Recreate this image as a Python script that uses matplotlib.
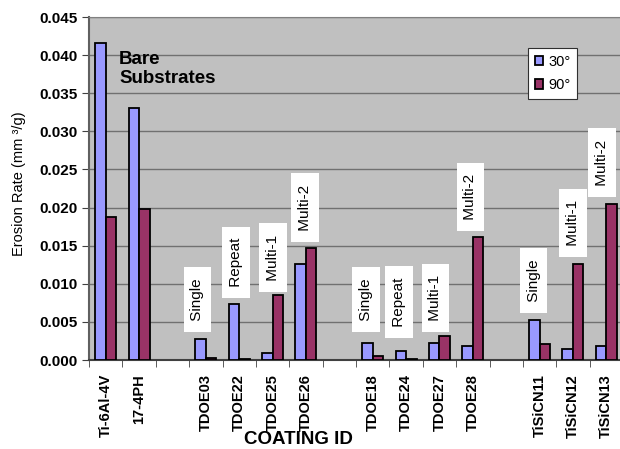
import matplotlib.pyplot as plt
import numpy as np

plt.rcParams['font.family'] = ['Liberation Sans', 'DejaVu Sans']

# coating ids, blank strings are spacer slots between groups
ids = ['Ti-6Al-4V', '17-4PH', '',
       'TDOE03', 'TDOE22', 'TDOE25', 'TDOE26', '',
       'TDOE18', 'TDOE24', 'TDOE27', 'TDOE28', '',
       'TiSiCN11', 'TiSiCN12', 'TiSiCN13']
rate_30 = [0.0416, 0.0330, np.nan,
           0.00275, 0.0073, 0.0009, 0.01265, np.nan,
           0.0022, 0.0012, 0.0022, 0.0019, np.nan,
           0.0052, 0.0014, 0.0019]
rate_90 = [0.0187, 0.0198, np.nan,
           0.0003, 0.0001, 0.0085, 0.01465, np.nan,
           0.0005, 0.0001, 0.0032, 0.0161, np.nan,
           0.0021, 0.0126, 0.0205]

# process notes: text, x slot, y of the label box's lower edge
notes = ['Single', 'Repeat', 'Multi-1', 'Multi-2',
         'Single', 'Repeat', 'Multi-1', 'Multi-2',
         'Single', 'Multi-1', 'Multi-2']
note_x = [2.75, 3.90, 5.02, 5.98, 7.80, 8.79, 9.88, 10.93, 12.82, 14.01, 14.87]
note_y = [0.00367, 0.00813, 0.00896, 0.01552, 0.00367, 0.00289, 0.00367,
          0.01692, 0.00617, 0.01351, 0.02142]

fig = plt.figure(figsize=(6.2, 4.49), dpi=100)
ax = fig.add_axes([89 / 620, 1 - 360 / 449, 534 / 620, 343 / 449])
ax.set_facecolor('#C0C0C0')

x = np.arange(len(ids))
w = 0.315
ax.bar(x - w / 2, rate_30, w, color='#9999FF', edgecolor='black', linewidth=1.3,
       label='30°', zorder=3)
ax.bar(x + w / 2, rate_90, w, color='#993366', edgecolor='black', linewidth=1.3,
       label='90°', zorder=3)

ax.set_xlim(-0.5, len(ids) - 0.5)
ax.set_ylim(0, 0.045)
ax.set_yticks(np.arange(0, 0.0451, 0.005))
ax.set_yticklabels([f'{v:.3f}' for v in np.arange(0, 0.0451, 0.005)],
                   fontsize=11, fontweight='bold')
ax.yaxis.grid(True, color='#707070', linewidth=1.0, zorder=1)
ax.set_axisbelow(True)

ax.set_xticks(x)
ax.set_xticklabels(ids, rotation=90, fontsize=10.5, fontweight='bold')
ax.tick_params(axis='x', length=0, pad=10)
ax.set_xticks(np.arange(-0.5, len(ids), 1.0), minor=True)
ax.tick_params(axis='x', which='minor', length=5, direction='out', color='#404040')
ax.tick_params(axis='y', length=5, direction='out', color='#404040', pad=3)

for side in ['top', 'right']:
    ax.spines[side].set_color('#808080')
ax.spines['left'].set_color('#606060')
ax.spines['left'].set_linewidth(1.5)
ax.spines['bottom'].set_color('#404040')
ax.spines['bottom'].set_linewidth(1.5)

ax.set_ylabel('Erosion Rate (mm ³/g)', fontsize=10.5, labelpad=8)
ax.yaxis.set_label_coords(-0.118, 0.515)
fig.text(298 / 620, 1 - 439 / 449, 'COATING ID', fontsize=13.5, fontweight='bold',
         ha='center', va='center')

ax.text(0.4, 0.0363, 'Bare\nSubstrates', fontsize=13.5, fontweight='bold',
        ha='left', va='baseline', linespacing=1.2, zorder=4)

# white label boxes standing on the given y, lifted by the box padding
for t, nx, ny in zip(notes, note_x, note_y):
    ax.annotate(f' {t} ', xy=(nx, ny), xytext=(0, 7), textcoords='offset pixels',
                rotation=90, fontsize=11, ha='center', va='bottom', zorder=5,
                bbox=dict(boxstyle='square,pad=0.45', facecolor='white',
                          edgecolor='none'))

leg = ax.legend(loc='upper left', bbox_to_anchor=(528 / 620, 1 - 48 / 449),
                bbox_transform=fig.transFigure, fontsize=10.5, frameon=True,
                fancybox=False, edgecolor='#303030', framealpha=1,
                handlelength=0.6, handleheight=0.6, handletextpad=0.35,
                labelspacing=0.65, borderpad=0.45, borderaxespad=0)
leg.get_frame().set_linewidth(0.8)

fig.savefig('out.png', dpi=100)
